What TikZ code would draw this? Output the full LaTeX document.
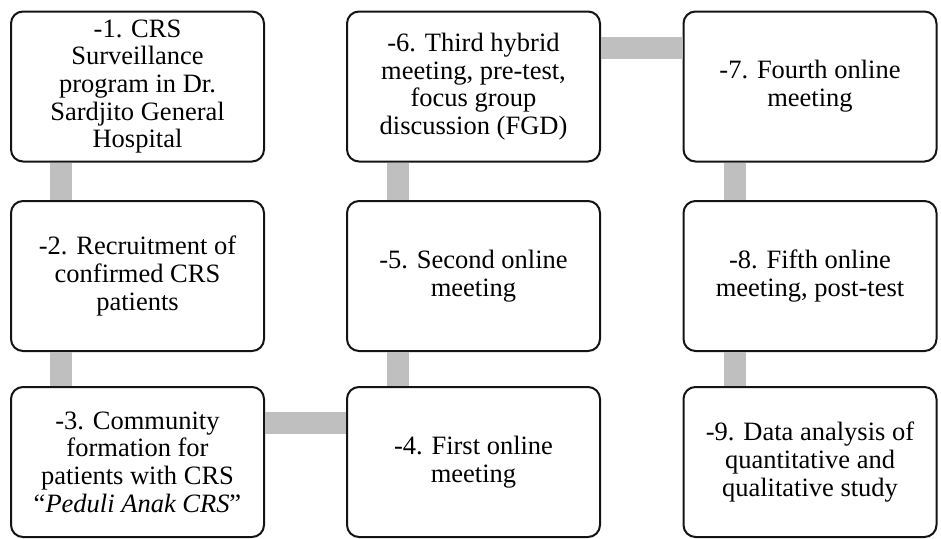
\documentclass[tikz,border=0pt]{standalone}
\usepackage{fontspec}
\setmainfont{Liberation Serif}
\begin{document}
\begin{tikzpicture}[x=1pt,y=-1pt,
  stepbox/.style={draw=black!92, line width=2pt, fill=white, rounded corners=12pt,
    minimum width=253pt, minimum height=150pt, align=center, inner sep=4pt,
    font=\fontsize{26.5}{27.7}\selectfont},
  conn/.style={draw=black!25, line width=22pt}]
\useasboundingbox (0,0) rectangle (941,538);
% nodes
\node[stepbox] (b1) at (137.5,86.5) {-1. CRS\\Surveillance\\program in Dr.\\Sardjito General\\Hospital};
\node[stepbox] (b2) at (137.5,276) {-2. Recruitment of\\confirmed CRS\\patients};
\node[stepbox] (b3) at (137.5,462) {-3. Community\\formation for\\patients with CRS\\“\textit{Peduli Anak CRS}”};
\node[stepbox] (b4) at (473.5,462) {-4. First online\\meeting};
\node[stepbox] (b5) at (473.5,276) {-5. Second online\\meeting};
\node[stepbox] (b6) at (473.5,86.5) {-6. Third hybrid\\meeting, pre-test,\\focus group\\discussion (FGD)};
\node[stepbox] (b7) at (810,86.5) {-7. Fourth online\\meeting};
\node[stepbox] (b8) at (810,276) {-8. Fifth online\\meeting, post-test};
\node[stepbox] (b9) at (810,462) {-9. Data analysis of\\quantitative and\\qualitative study};
% connectors
\path[conn] ([xshift=51pt]b1.south west) -- ([xshift=51pt]b2.north west);
\path[conn] ([xshift=51pt]b2.south west) -- ([xshift=51pt]b3.north west);
\path[conn] ([yshift=-37pt]b3.north east) -- ([yshift=-37pt]b4.north west);
\path[conn] ([xshift=52pt]b4.north west) -- ([xshift=52pt]b5.south west);
\path[conn] ([xshift=52pt]b5.north west) -- ([xshift=52pt]b6.south west);
\path[conn] ([yshift=-37pt]b6.north east) -- ([yshift=-37pt]b7.north west);
\path[conn] ([xshift=52pt]b7.south west) -- ([xshift=52pt]b8.north west);
\path[conn] ([xshift=52pt]b8.south west) -- ([xshift=52pt]b9.north west);
\end{tikzpicture}
\end{document}
